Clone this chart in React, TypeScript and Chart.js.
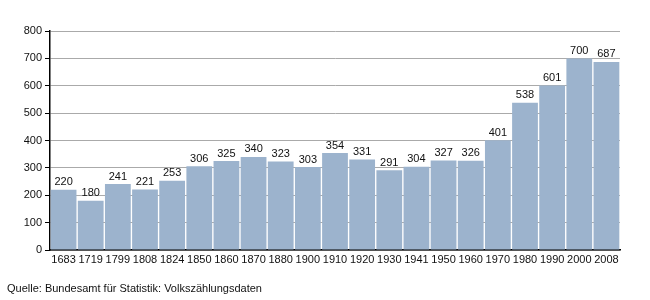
import React, { useEffect, useRef } from "react";
import { Chart, registerables } from "chart.js";

Chart.register(...registerables);

const years = ["1683","1719","1799","1808","1824","1850","1860","1870","1880","1900","1910","1920","1930","1941","1950","1960","1970","1980","1990","2000","2008"];
const population = [220,180,241,221,253,306,325,340,323,303,354,331,291,304,327,326,401,538,601,700,687];
const yMin = 0;
const yMax = 800;
const yStep = 100;
const sourceText = "Quelle: Bundesamt für Statistik: Volkszählungsdaten";

const FONT = "'Liberation Sans', Arial, sans-serif";

const valueLabels = {
  id: "valueLabels",
  afterDatasetsDraw(chart: any) {
    const ctx = chart.ctx;
    const meta = chart.getDatasetMeta(0);
    ctx.save();
    ctx.font = `11px ${FONT}`;
    ctx.fillStyle = "#111";
    ctx.textAlign = "center";
    ctx.textBaseline = "bottom";
    meta.data.forEach((bar: any, i: number) => {
      ctx.fillText(String(population[i]), bar.x, bar.y - 2);
    });
    ctx.restore();
  },
};

const sourceLabel = {
  id: "sourceLabel",
  afterDraw(chart: any) {
    const ctx = chart.ctx;
    ctx.save();
    ctx.font = `11px ${FONT}`;
    ctx.fillStyle = "#111";
    ctx.textAlign = "left";
    ctx.textBaseline = "middle";
    ctx.fillText(sourceText, 7, 289);
    ctx.restore();
  },
};

export default function App() {
  const ref = useRef<HTMLCanvasElement | null>(null);
  useEffect(() => {
    if (!ref.current) return;
    const chart = new Chart(ref.current, {
      type: "bar",
      data: {
        labels: years,
        datasets: [
          {
            data: population,
            backgroundColor: "rgb(156,179,205)",
            borderWidth: 0,
            barPercentage: 1,
            categoryPercentage: 0.95,
          },
        ],
      },
      options: {
        animation: false,
        responsive: false,
        layout: { padding: { top: 31, right: 30, bottom: 30, left: 0 } },
        plugins: { legend: { display: false }, tooltip: { enabled: false } },
        scales: {
          x: {
            grid: { display: true, drawOnChartArea: false, drawTicks: false, tickLength: 0 },
            border: { color: "#000", width: 1.5 },
            ticks: { color: "#111", font: { family: FONT, size: 11 }, padding: 3, maxRotation: 0, autoSkip: false },
            afterFit(scale: any) { scale.height = 20; },
          },
          y: {
            min: yMin,
            max: yMax,
            grid: { color: "#aaa", tickLength: 5, tickColor: "#000", lineWidth: 1 },
            border: { color: "#000", width: 1.5 },
            ticks: { stepSize: yStep, color: "#111", font: { family: FONT, size: 11 }, padding: 3 },
            afterFit(scale: any) { scale.width = 50; },
          },
        },
      },
      plugins: [valueLabels, sourceLabel],
    });
    return () => chart.destroy();
  }, []);
  return (
    <div style={{ position: "fixed", left: 0, top: 0, width: 650, height: 300, background: "#fff" }}>
      <canvas ref={ref} width={650} height={300} />
    </div>
  );
}
